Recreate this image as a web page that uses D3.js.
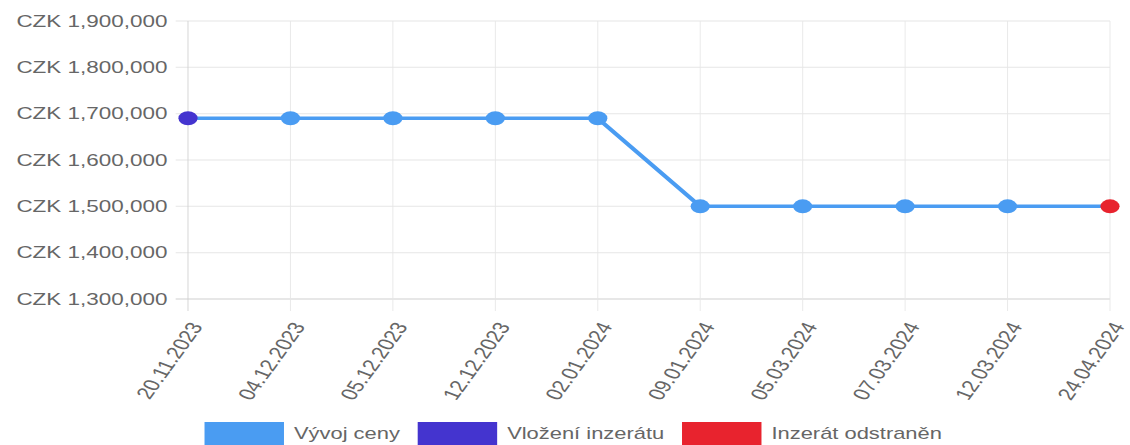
<!DOCTYPE html>
<html>
<head>
<meta charset="utf-8">
<script src="https://cdn.jsdelivr.net/npm/d3@7"></script>
<style>
  html, body { margin: 0; padding: 0; background: #fff; }
  svg { display: block; }
  text { font-family: "Liberation Sans", Arial, sans-serif; fill: #666; }
</style>
</head>
<body>
<svg id="chart" width="1130" height="445"></svg>
<script>
// data
const dates = ["20.11.2023", "04.12.2023", "05.12.2023", "12.12.2023", "02.01.2024",
               "09.01.2024", "05.03.2024", "07.03.2024", "12.03.2024", "24.04.2024"];
const prices = [1690000, 1690000, 1690000, 1690000, 1690000,
                1500000, 1500000, 1500000, 1500000, 1500000];
const yTicks = [1300000, 1400000, 1500000, 1600000, 1700000, 1800000, 1900000];
const seriesNames = ["Vývoj ceny", "Vložení inzerátu", "Inzerát odstraněn"];
const seriesColors = ["#4a9cf2", "#4434cf", "#e8232e"];

// the original canvas was stretched horizontally, so draw in a narrower
// coordinate space and let the viewBox stretch it to 1130px
const stretch = 1.37;
const W = 1130 / stretch, H = 445;
const svg = d3.select("#chart")
    .attr("viewBox", `0 0 ${W} ${H}`)
    .attr("preserveAspectRatio", "none");

const plotLeft = 188 / stretch, plotRight = 1110 / stretch;
const plotTop = 21, plotBottom = 299;

const x = d3.scalePoint().domain(dates).range([plotLeft, plotRight]);
const y = d3.scaleLinear().domain([1300000, 1900000]).range([plotBottom, plotTop]);

// grid
svg.append("g")
    .selectAll("line")
    .data(yTicks)
    .join("line")
    .attr("x1", plotLeft - 9)
    .attr("x2", plotRight)
    .attr("y1", d => y(d))
    .attr("y2", d => y(d))
    .attr("stroke", d => d === 1300000 ? "#cfcfcf" : "#e6e6e6")
    .attr("stroke-width", 1);

svg.append("g")
    .selectAll("line")
    .data(dates)
    .join("line")
    .attr("x1", d => x(d))
    .attr("x2", d => x(d))
    .attr("y1", plotTop)
    .attr("y2", plotBottom + 12)
    .attr("stroke", (d, i) => i === 0 ? "#cfcfcf" : "#e6e6e6")
    .attr("stroke-width", 1 / stretch);

// y labels
const fmt = d3.format(",");
svg.append("g")
    .selectAll("text")
    .data(yTicks)
    .join("text")
    .attr("x", plotLeft - 15)
    .attr("y", d => y(d))
    .attr("dy", "0.35em")
    .attr("text-anchor", "end")
    .style("font-size", "16.4px")
    .text(d => "CZK " + fmt(d));

// x labels, rotated
svg.append("g")
    .selectAll("text")
    .data(dates)
    .join("text")
    .attr("transform", d => `translate(${x(d) + 6},${plotBottom + 24.5}) rotate(-62)`)
    .attr("text-anchor", "end")
    .attr("dy", "0.35em")
    .style("font-size", "17px")
    .text(d => d);

// price line
const line = d3.line()
    .x((d, i) => x(dates[i]))
    .y(d => y(d));

svg.append("path")
    .datum(prices)
    .attr("d", line)
    .attr("fill", "none")
    .attr("stroke", seriesColors[0])
    .attr("stroke-width", 3.5)
    .attr("stroke-linejoin", "round");

// points: first = listing added, last = listing removed
svg.append("g")
    .selectAll("circle")
    .data(prices)
    .join("circle")
    .attr("cx", (d, i) => x(dates[i]))
    .attr("cy", d => y(d))
    .attr("r", 7)
    .attr("fill", (d, i) => i === 0 ? seriesColors[1] : i === prices.length - 1 ? seriesColors[2] : seriesColors[0]);

// legend, centred a little right of the canvas middle
const legend = svg.append("g");
const boxW = 58, gapText = 7.3, gapItem = 13;
let cursor = 0;
seriesNames.forEach((name, i) => {
    const g = legend.append("g");
    g.append("rect")
        .attr("x", 0).attr("y", 422)
        .attr("width", boxW).attr("height", 24)
        .attr("fill", seriesColors[i]);
    const t = g.append("text")
        .attr("x", boxW + gapText)
        .attr("y", 439)
        .style("font-size", "16px")
        .text(name);
    const w = boxW + gapText + t.node().getComputedTextLength();
    g.attr("transform", `translate(${cursor},0)`);
    cursor += w + gapItem;
});
const total = cursor - gapItem;
legend.attr("transform", `translate(${(W - total) / 2 + 6},0)`);
</script>
</body>
</html>
